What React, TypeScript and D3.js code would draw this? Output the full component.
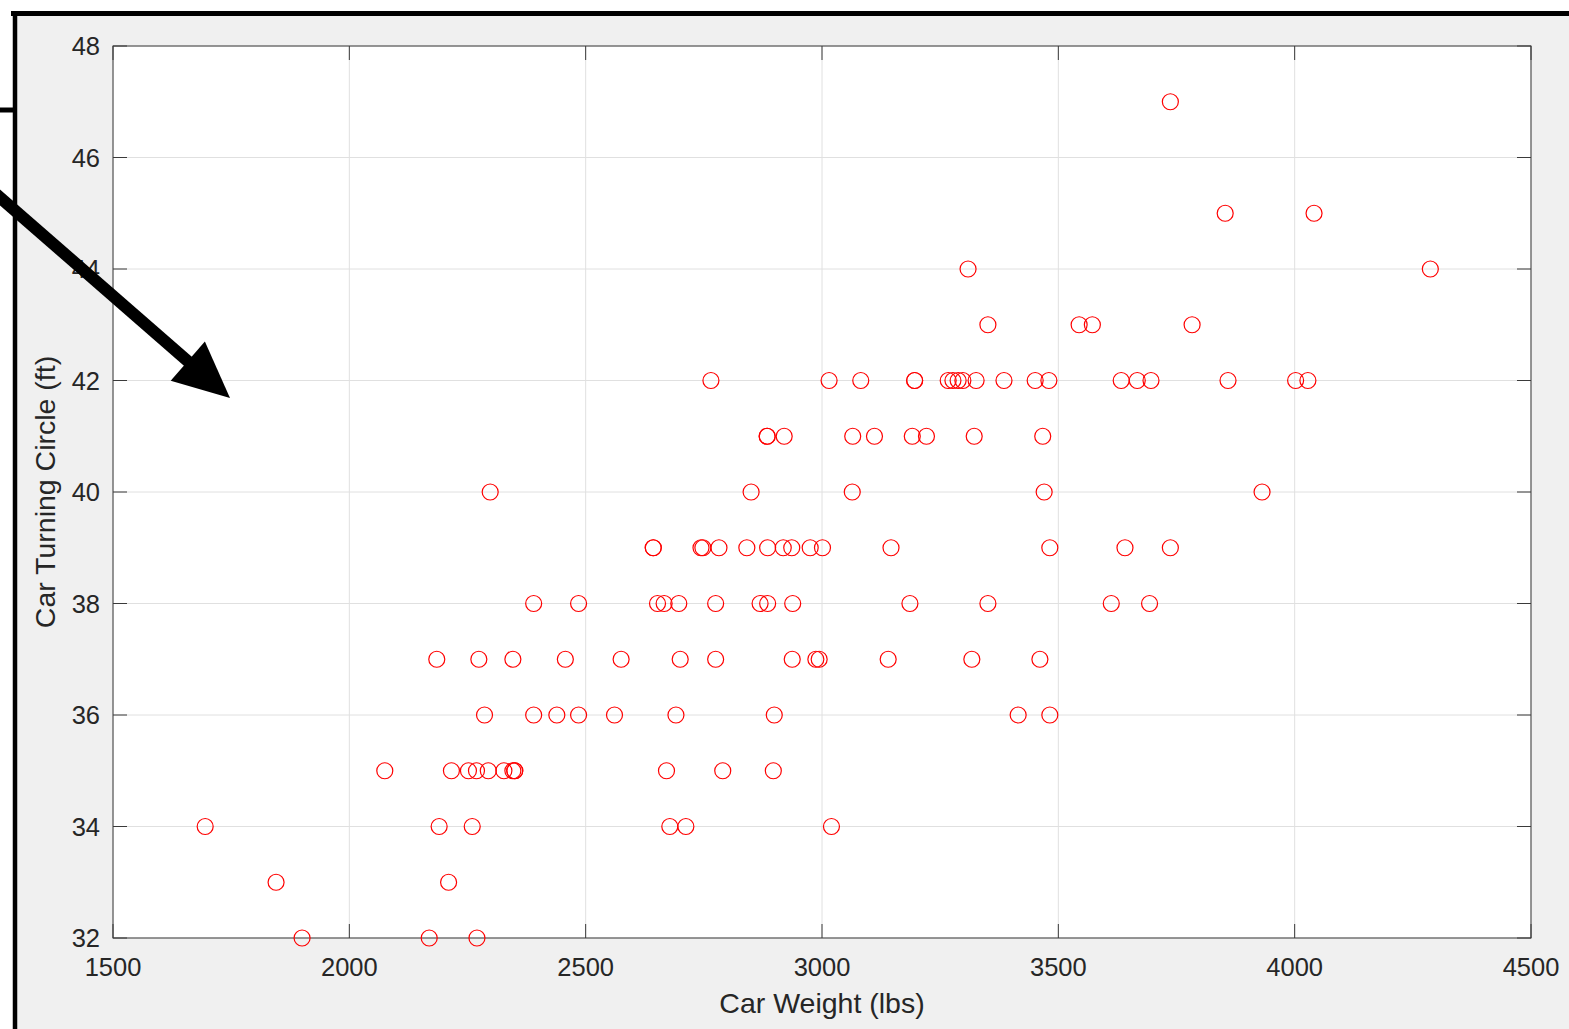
import React from "react";
import * as d3 from "d3";

// Car weight (lbs) and turning circle (ft)
const weight: number[] = [
  1900, 2169, 2270,
  1845, 2210,
  1695, 2190, 2260, 2678, 2712, 3020,
  2075, 2216, 2252, 2269, 2294, 2327, 2346, 2350, 2350, 2671, 2790, 2897,
  2286, 2390, 2439, 2485, 2561, 2691, 2899, 3415, 3482,
  2185, 2274, 2346, 2457, 2575, 2700, 2775, 2937, 2987, 2994, 3140, 3317, 3461,
  2390, 2485, 2652, 2666, 2697, 2775, 2869, 2885, 2938, 3186, 3351, 3612, 3693,
  2643, 2643, 2744, 2748, 2782, 2841, 2885, 2918, 2936, 2975, 3001, 3146, 3482, 3641, 3737,
  2298, 2850, 3064, 3470, 3931,
  2884, 2884, 2920, 3065, 3111, 3191, 3221, 3322, 3467,
  2765, 3015, 3082, 3196, 3196, 3267, 3277, 3288, 3298, 3326, 3385, 3451, 3480, 3633, 3667, 3696, 3859, 4002, 4028,
  3351, 3544, 3572, 3783,
  3309, 4287,
  3853, 4041,
  3737,
];
const turningCircle: number[] = [
  32, 32, 32,
  33, 33,
  34, 34, 34, 34, 34, 34,
  35, 35, 35, 35, 35, 35, 35, 35, 35, 35, 35, 35,
  36, 36, 36, 36, 36, 36, 36, 36, 36,
  37, 37, 37, 37, 37, 37, 37, 37, 37, 37, 37, 37, 37,
  38, 38, 38, 38, 38, 38, 38, 38, 38, 38, 38, 38, 38,
  39, 39, 39, 39, 39, 39, 39, 39, 39, 39, 39, 39, 39, 39, 39,
  40, 40, 40, 40, 40,
  41, 41, 41, 41, 41, 41, 41, 41, 41,
  42, 42, 42, 42, 42, 42, 42, 42, 42, 42, 42, 42, 42, 42, 42, 42, 42, 42, 42,
  43, 43, 43, 43,
  44, 44,
  45, 45,
  47,
];
const xTicks: number[] = [1500, 2000, 2500, 3000, 3500, 4000, 4500];
const yTicks: number[] = [32, 34, 36, 38, 40, 42, 44, 46, 48];
const xLabel = "Car Weight (lbs)";
const yLabel = "Car Turning Circle (ft)";

const W = 1569;
const H = 1029;
const L = 113, R = 1531, T = 46, B = 938;
const FONT = "'Liberation Sans', Arial, Helvetica, sans-serif";
const TXT = "#262626";
const AX = "#3a3a3a";
const GRID = "#e0e0e0";
const TICK = 14;

export default function App() {
  const x = d3.scaleLinear().domain([1500, 4500]).range([L, R]);
  const y = d3.scaleLinear().domain([32, 48]).range([B, T]);

  // annotation arrow
  const ax0 = -20, ay0 = 180, tipX = 230, tipY = 398;
  const ang = Math.atan2(tipY - ay0, tipX - ax0);
  const headLen = 56, headHalf = 26;
  const bx = tipX - headLen * Math.cos(ang);
  const by = tipY - headLen * Math.sin(ang);
  const px = -Math.sin(ang), py = Math.cos(ang);
  const head = `M${tipX},${tipY}L${bx + headHalf * px},${by + headHalf * py}L${bx - headHalf * px},${by - headHalf * py}Z`;

  return (
    <svg
      width={W}
      height={H}
      style={{ position: "absolute", left: 0, top: 0, display: "block" }}
      fontFamily={FONT}
    >
      <rect x={0} y={0} width={W} height={H} fill="#ffffff" />
      <rect x={13} y={13} width={W} height={H} fill="#f0f0f0" />
      {/* figure frame */}
      <line x1={11} x2={W} y1={13.5} y2={13.5} stroke="#000" strokeWidth={5} />
      <line x1={15} x2={15} y1={11} y2={H} stroke="#000" strokeWidth={4.5} />
      <line x1={0} x2={15} y1={110} y2={110} stroke="#000" strokeWidth={5} />

      {/* plot area */}
      <rect x={L} y={T} width={R - L} height={B - T} fill="#ffffff" />
      {xTicks.map((t) => (
        <line key={"gx" + t} x1={x(t)} x2={x(t)} y1={T} y2={B} stroke={GRID} strokeWidth={1} />
      ))}
      {yTicks.map((t) => (
        <line key={"gy" + t} x1={L} x2={R} y1={y(t)} y2={y(t)} stroke={GRID} strokeWidth={1} />
      ))}
      {/* ticks */}
      {xTicks.map((t) => (
        <g key={"tx" + t}>
          <line x1={x(t)} x2={x(t)} y1={B} y2={B - TICK} stroke={AX} strokeWidth={1} />
          <line x1={x(t)} x2={x(t)} y1={T} y2={T + TICK} stroke={AX} strokeWidth={1} />
        </g>
      ))}
      {yTicks.map((t) => (
        <g key={"ty" + t}>
          <line x1={L} x2={L + TICK} y1={y(t)} y2={y(t)} stroke={AX} strokeWidth={1} />
          <line x1={R} x2={R - TICK} y1={y(t)} y2={y(t)} stroke={AX} strokeWidth={1} />
        </g>
      ))}
      <rect x={L} y={T} width={R - L} height={B - T} fill="none" stroke={AX} strokeWidth={1} />

      {/* points */}
      {weight.map((w, i) => (
        <circle
          key={"p" + i}
          cx={x(w)}
          cy={y(turningCircle[i])}
          r={8}
          fill="none"
          stroke="#ff0000"
          strokeWidth={1.2}
        />
      ))}

      {/* tick labels */}
      {xTicks.map((t) => (
        <text key={"lx" + t} x={x(t)} y={976} textAnchor="middle" fontSize={25.5} fill={TXT}>
          {t}
        </text>
      ))}
      {yTicks.map((t) => (
        <text key={"ly" + t} x={100} y={y(t) + 9} textAnchor="end" fontSize={25.5} fill={TXT}>
          {t}
        </text>
      ))}
      {/* axis labels */}
      <text x={(L + R) / 2} y={1013} textAnchor="middle" fontSize={28.5} fill={TXT}>
        {xLabel}
      </text>
      <text
        transform={`translate(55, ${(T + B) / 2}) rotate(-90)`}
        textAnchor="middle"
        fontSize={28.5}
        fill={TXT}
      >
        {yLabel}
      </text>

      {/* annotation arrow */}
      <line x1={ax0} y1={ay0} x2={bx + 2 * Math.cos(ang)} y2={by + 2 * Math.sin(ang)} stroke="#000" strokeWidth={12} />
      <path d={head} fill="#000" />
    </svg>
  );
}
